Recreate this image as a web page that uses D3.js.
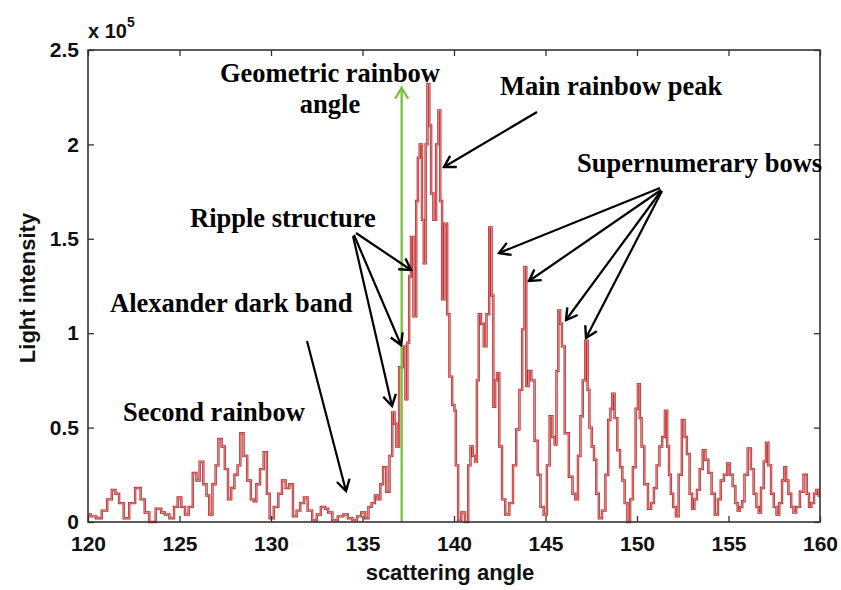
<!DOCTYPE html>
<html>
<head>
<meta charset="utf-8">
<script src="https://cdn.jsdelivr.net/npm/d3@7"></script>
<style>
  body { margin: 0; background: #fff; }
  svg { display: block; }
  .tick text { font-family: Arial, "Liberation Sans", sans-serif; font-weight: bold; font-size: 21px; fill: #111; }
  .note { font-family: "Times New Roman", "Liberation Serif", serif; font-weight: bold; font-size: 26.5px; fill: #000; }
  .lab { font-family: Arial, "Liberation Sans", sans-serif; font-weight: bold; font-size: 22px; fill: #111; }
</style>
</head>
<body>
<svg id="chart" width="841" height="590"></svg>
<script>
; (function () {

    // scattering angle (deg) and light intensity (x 1e5)
    var angles = [
        120.0, 120.3, 120.6, 120.9, 121.2, 121.4, 121.6, 121.8, 122.1, 122.4, 122.75, 123.0, 123.2, 123.5, 123.9, 124.1,
        124.3, 124.6, 124.8, 125.0, 125.2, 125.4, 125.6, 125.85, 126.0, 126.2, 126.4, 126.55, 126.7, 126.9, 127.05, 127.2,
        127.4, 127.55, 127.75, 127.9, 128.1, 128.25, 128.4, 128.6, 128.8, 129.0, 129.1, 129.3, 129.5, 129.7, 129.85, 130.0,
        130.3, 130.5, 130.7, 130.9, 131.1, 131.3, 131.5, 131.7, 131.9, 132.1, 132.4, 132.6, 132.85, 133.05, 133.2, 133.5,
        133.8, 134.1, 134.3, 134.6, 134.8, 135.05, 135.25, 135.4, 135.6, 135.75, 135.9, 136.05, 136.2, 136.4, 136.55, 136.7,
        136.8, 136.9, 137.1, 137.3, 137.4, 137.5, 137.6, 137.7, 137.87, 138.0, 138.05, 138.2, 138.3, 138.4, 138.5, 138.6,
        138.7, 138.8, 138.95, 139.1, 139.2, 139.3, 139.4, 139.55, 139.7, 139.8, 140.0, 140.05, 140.15, 140.3, 140.5, 140.7,
        140.85, 140.95, 141.1, 141.2, 141.3, 141.4, 141.55, 141.7, 141.85, 142.0, 142.1, 142.2, 142.3, 142.4, 142.55, 142.7,
        142.9, 143.15, 143.3, 143.5, 143.65, 143.8, 143.9, 144.0, 144.15, 144.3, 144.5, 144.65, 144.8, 145.0, 145.15, 145.3,
        145.45, 145.55, 145.65, 145.75, 145.85, 145.95, 146.15, 146.4, 146.55, 146.7, 146.85, 146.97, 147.1, 147.25, 147.35, 147.45,
        147.6, 147.7, 147.85, 147.98, 148.2, 148.35, 148.5, 148.6, 148.7, 148.85, 149.0, 149.15, 149.25, 149.4, 149.55, 149.7,
        149.85, 150.0, 150.1, 150.2, 150.3, 150.5, 150.7, 150.85, 151.0, 151.15, 151.3, 151.45, 151.6, 151.7, 151.8, 151.9,
        152.05, 152.2, 152.35, 152.55, 152.65, 152.8, 152.95, 153.07, 153.2, 153.35, 153.5, 153.68, 153.8, 154.0, 154.15, 154.35,
        154.5, 154.65, 154.85, 155.0, 155.15, 155.3, 155.45, 155.55, 155.7, 155.8, 155.95, 156.15, 156.3, 156.45, 156.6, 156.7,
        156.85, 157.0, 157.1, 157.25, 157.4, 157.55, 157.7, 157.85, 158.0, 158.1, 158.2, 158.35, 158.5, 158.6, 158.8, 159.0,
        159.2, 159.35, 159.45, 159.6, 159.75, 159.85, 160.0
    ]
    var intensity = [
        0.04, 0.03, 0.02, 0.06, 0.12, 0.17, 0.15, 0.10, 0.02, 0.10, 0.18, 0.12, 0.05, 0.00, 0.07, 0.05,
        0.04, 0.02, 0.08, 0.13, 0.08, 0.04, 0.08, 0.26, 0.22, 0.32, 0.20, 0.14, 0.04, 0.20, 0.30, 0.44,
        0.40, 0.28, 0.12, 0.18, 0.25, 0.30, 0.47, 0.35, 0.22, 0.12, 0.11, 0.20, 0.28, 0.37, 0.15, 0.02,
        0.08, 0.15, 0.22, 0.18, 0.20, 0.03, 0.06, 0.10, 0.13, 0.06, 0.01, 0.04, 0.08, 0.07, 0.05, 0.01,
        0.03, 0.04, 0.02, 0.01, 0.03, 0.05, 0.02, 0.08, 0.10, 0.14, 0.12, 0.20, 0.29, 0.16, 0.35, 0.58,
        0.52, 0.40, 0.82, 0.93, 0.65, 0.95, 1.30, 1.51, 1.09, 1.70, 1.93, 2.00, 1.60, 1.37, 2.00, 2.32,
        2.10, 1.74, 1.60, 2.00, 2.18, 1.70, 1.18, 1.58, 1.10, 0.77, 0.62, 0.59, 0.30, 0.01, 0.05, 0.00,
        0.30, 0.40, 0.35, 0.32, 0.75, 1.10, 1.05, 0.93, 1.10, 1.56, 1.20, 0.61, 0.75, 0.79, 0.40, 0.12,
        0.04, 0.10, 0.30, 0.49, 0.70, 1.02, 1.35, 0.72, 0.80, 0.75, 0.43, 0.25, 0.08, 0.04, 0.30, 0.56,
        0.45, 0.41, 0.80, 1.12, 1.05, 0.93, 0.47, 0.24, 0.15, 0.12, 0.35, 0.56, 0.75, 0.96, 0.70, 0.50,
        0.40, 0.33, 0.15, 0.02, 0.06, 0.25, 0.54, 0.60, 0.68, 0.55, 0.38, 0.29, 0.22, 0.10, 0.00, 0.12,
        0.29, 0.60, 0.73, 0.55, 0.40, 0.20, 0.07, 0.10, 0.18, 0.30, 0.40, 0.45, 0.59, 0.40, 0.25, 0.15,
        0.08, 0.03, 0.25, 0.54, 0.45, 0.36, 0.15, 0.07, 0.12, 0.17, 0.28, 0.38, 0.33, 0.26, 0.15, 0.04,
        0.12, 0.22, 0.25, 0.31, 0.25, 0.19, 0.10, 0.06, 0.08, 0.11, 0.25, 0.39, 0.28, 0.15, 0.08, 0.05,
        0.18, 0.32, 0.42, 0.30, 0.15, 0.08, 0.04, 0.10, 0.22, 0.29, 0.22, 0.15, 0.08, 0.05, 0.08, 0.16,
        0.25, 0.15, 0.08, 0.10, 0.15, 0.17, 0.14
    ]
    var xTicks = [120, 125, 130, 135, 140, 145, 150, 155, 160]
    var yTicks = [0, 0.5, 1, 1.5, 2, 2.5]
    var yTickLabels = ["0", "0.5", "1", "1.5", "2", "2.5"]
    var rainbowAngle = 137.14
    var rainbowTop = 2.3

    var svg = d3.select("#chart")
    var margin = { top: 50, right: 21, bottom: 68, left: 88 },
        width = 841 - margin.left - margin.right,
        height = 590 - margin.top - margin.bottom

    var x = d3.scaleLinear().domain([120, 160]).range([0, width])
    var y = d3.scaleLinear().domain([0, 2.5]).range([height, 0])

    var g = svg.append("g").attr("transform", "translate(" + margin.left + "," + margin.top + ")")

    var defs = svg.append("defs")
    function arrowHead(id, color) {
        defs.append("marker")
            .attr("id", id)
            .attr("viewBox", "-12 -8 14 16")
            .attr("refX", 0).attr("refY", 0)
            .attr("markerWidth", 14).attr("markerHeight", 16)
            .attr("markerUnits", "userSpaceOnUse")
            .attr("orient", "auto")
            .append("path")
            .attr("d", "M-11,-6.5 L0,0 L-11,6.5")
            .attr("fill", "none")
            .attr("stroke", color)
            .attr("stroke-width", 2.4)
    }
    arrowHead("ah", "#000")
    arrowHead("ahg", "#7cc242")

    // the data line
    var pts = angles.map(function (a, i) { return [a, intensity[i]] })
    var line = d3.line()
        .x(function (d) { return x(d[0]) })
        .y(function (d) { return y(d[1]) })
        .curve(d3.curveStep)

    g.append("path").datum(pts)
        .attr("d", line)
        .attr("fill", "none")
        .attr("stroke", "#b8282a")
        .attr("stroke-width", 2.4)
    g.append("path").datum(pts)
        .attr("d", line)
        .attr("fill", "none")
        .attr("stroke", "#f2a3a3")
        .attr("stroke-width", 0.8)

    // green geometric rainbow line
    g.append("line")
        .attr("x1", x(rainbowAngle)).attr("x2", x(rainbowAngle))
        .attr("y1", y(0)).attr("y2", y(rainbowTop))
        .attr("stroke", "#7cc242")
        .attr("stroke-width", 2.4)
        .attr("marker-end", "url(#ahg)")

    // axes, matlab style box with inward ticks
    g.append("g")
        .attr("transform", "translate(0," + height + ")")
        .call(d3.axisBottom(x).tickValues(xTicks).tickSizeInner(-6).tickSizeOuter(0).tickPadding(14))
    g.append("g")
        .call(d3.axisTop(x).tickValues(xTicks).tickSizeInner(-6).tickSizeOuter(0).tickFormat(""))
    g.append("g")
        .call(d3.axisLeft(y).tickValues(yTicks).tickSizeInner(-6).tickSizeOuter(0).tickPadding(9)
            .tickFormat(function (d, i) { return yTickLabels[i] }))
    g.append("g")
        .attr("transform", "translate(" + width + ",0)")
        .call(d3.axisRight(y).tickValues(yTicks).tickSizeInner(-6).tickSizeOuter(0).tickFormat(""))
    g.selectAll(".domain").remove()
    g.selectAll(".tick line").attr("stroke", "#333").attr("stroke-width", 1.3)
    g.append("rect")
        .attr("width", width).attr("height", height)
        .attr("fill", "none").attr("stroke", "#333").attr("stroke-width", 1.6)

    // exponent
    var ex = svg.append("text").attr("class", "lab")
        .attr("x", 88).attr("y", 38)
        .style("font-size", "20px")
    ex.append("tspan").text("x 10")
    ex.append("tspan").attr("dy", -11).style("font-size", "14px").text("5")

    // axis titles
    svg.append("text").attr("class", "lab")
        .attr("x", 450).attr("y", 580)
        .attr("text-anchor", "middle")
        .text("scattering angle")
    svg.append("text").attr("class", "lab")
        .attr("transform", "translate(35,288) rotate(-90)")
        .attr("text-anchor", "middle")
        .text("Light intensity")

    // annotations
    function note(txt, px, py, anchor) {
        svg.append("text").attr("class", "note")
            .attr("x", px).attr("y", py)
            .attr("text-anchor", anchor || "start")
            .text(txt)
    }
    note("Geometric rainbow", 330, 82, "middle")
    note("angle", 330, 113, "middle")
    note("Main rainbow peak", 500, 95)
    note("Supernumerary bows", 577, 172)
    note("Ripple structure", 190, 227)
    note("Alexander dark band", 110, 312)
    note("Second rainbow", 123, 421)

    function arrow(x1, y1, x2, y2) {
        svg.append("line")
            .attr("x1", x1).attr("y1", y1).attr("x2", x2).attr("y2", y2)
            .attr("stroke", "#000").attr("stroke-width", 2.2)
            .attr("marker-end", "url(#ah)")
    }
    arrow(537, 112, 444, 167)
    arrow(660, 188, 499, 253)
    arrow(661, 190, 529, 281)
    arrow(661, 191, 566, 320)
    arrow(662, 191, 586, 338)
    arrow(356, 233, 411, 270)
    arrow(354, 235, 401, 345)
    arrow(353, 236, 392, 406)
    arrow(307, 341, 346, 491)

})();
</script>
</body>
</html>
